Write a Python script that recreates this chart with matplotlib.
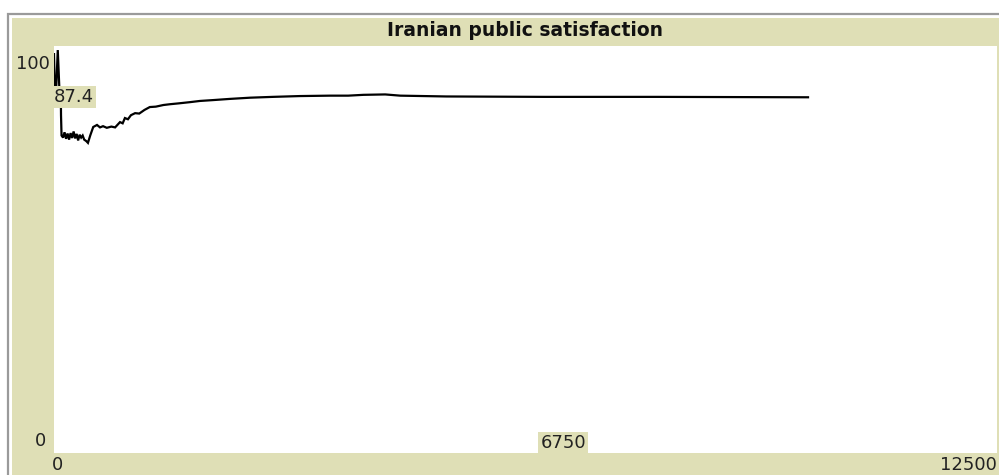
import matplotlib
matplotlib.use("Agg")
import matplotlib.pyplot as plt
from matplotlib.patches import Rectangle

title = "Iranian public satisfaction"
x_min, x_max = 0, 12500
y_min, y_max = 0, 100
current_value = 87.4
hover_x = 6750

ticks = [0, 10, 30, 50, 70, 90, 93, 100, 120, 140, 160, 180, 200, 220, 240, 260, 280, 300, 320, 340,
         360, 380, 400, 430, 450, 480, 520, 570, 610, 650, 700, 760, 810, 850, 875, 910, 940,
         980, 1020, 1075, 1130, 1200, 1270, 1350, 1450, 1540, 1650, 1800, 1935, 2100, 2330,
         2600, 2900, 3260, 3660, 3900, 4100, 4390, 4590, 5200, 6500, 8000, 9995]
satisfaction = [98, 90, 90, 99, 90, 89, 83, 78, 77.5, 78.8, 77.2, 78.5, 77.0, 78.6, 77.4, 79.0,
                77.3, 78.4, 76.8, 78.2, 77.5, 78.0, 77.0, 76.6, 76.2, 78.0, 80.1, 80.6, 80.0,
                80.3, 79.9, 80.2, 80.0, 80.8, 81.3, 81.0, 82.3, 82.0, 83.0, 83.5, 83.4, 84.3,
                85.0, 85.1, 85.5, 85.7, 85.9, 86.2, 86.5, 86.7, 87.0, 87.3, 87.5, 87.7, 87.8,
                87.8, 88.0, 88.1, 87.8, 87.6, 87.5, 87.5, 87.4]

W, H = 999, 475
beige = "#DFDFB6"
fig = plt.figure(figsize=(W / 100, H / 100), dpi=100)
fig.patch.set_facecolor("white")

def fx(px):
    return px / W

def fy(py):
    return 1 - py / H

# outer frame and beige panel
fig.patches.append(Rectangle((fx(7.5), -0.01), 1.0, fy(14) + 0.01, transform=fig.transFigure,
                             facecolor="white", edgecolor="#9A9A9A", linewidth=1.6, zorder=-2))
fig.patches.append(Rectangle((fx(12), -0.01), 1.0, fy(18) + 0.01, transform=fig.transFigure,
                             facecolor=beige, edgecolor="none", zorder=-1))

L, R, T, B = 54, 997, 46, 453
ax = fig.add_axes([fx(L), fy(B), fx(R) - fx(L), fy(T) - fy(B)])
ax.set_zorder(5)
ax.set_facecolor("white")
ax.set_xlim(x_min, x_max)
ax.set_ylim(y_min, y_max)
for s in ax.spines.values():
    s.set_visible(False)
ax.set_xticks([])
ax.set_yticks([])

ax.plot(ticks, satisfaction, color="black", lw=1.6, solid_joinstyle="miter")

# title
fig.text(fx(525), fy(30), title, ha="center", va="center", fontsize=13.5, fontweight="bold",
         color="#111111", family="DejaVu Sans", zorder=6)

fs = 13
# axis labels
fig.text(fx(50), fy(64), str(y_max), ha="right", va="center", fontsize=fs, color="#222222", zorder=6)
fig.text(fx(46), fy(441), str(y_min), ha="right", va="center", fontsize=fs, color="#222222", zorder=6)
fig.text(fx(52), fy(465), str(x_min), ha="left", va="center", fontsize=fs, color="#222222", zorder=6)
fig.text(fx(997), fy(465), str(x_max), ha="right", va="center", fontsize=fs, color="#222222", zorder=6)

# current value label
ax.text(0, current_value, "{:.1f}".format(current_value), ha="left", va="center", fontsize=fs,
        color="#222222", bbox=dict(facecolor=beige, edgecolor="none", pad=1.5), zorder=3)
# hover x label
ax.text(hover_x, 0.3, str(hover_x), ha="center", va="bottom", fontsize=fs, color="#222222",
        bbox=dict(facecolor=beige, edgecolor="none", pad=1.5), zorder=3)

fig.savefig("out.png", dpi=100)
